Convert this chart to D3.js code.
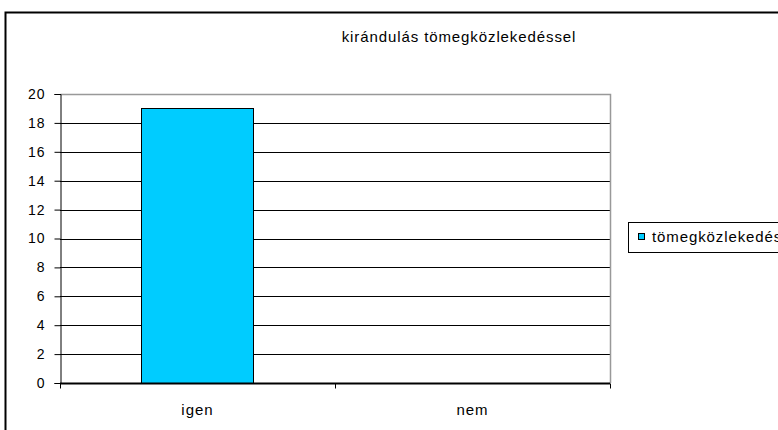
<!DOCTYPE html>
<html>
<head>
<meta charset="utf-8">
<script src="https://cdn.jsdelivr.net/npm/d3@7"></script>
<style>
body { margin: 0; background: #fff; }
text { font-family: "Liberation Sans", Arial, sans-serif; }
</style>
</head>
<body>
<script>
var categories = ["igen", "nem"];
var values = [19, 0];
var seriesName = "tömegközlekedéssel";
var title = "kirándulás tömegközlekedéssel";
var yTicks = [0, 2, 4, 6, 8, 10, 12, 14, 16, 18, 20];

var W = 778, H = 430;
var margin = {top: 94, left: 60}, width = 550, height = 289;

var root = d3.select("body").append("svg")
    .attr("width", W)
    .attr("height", H);

// chart area border
root.append("rect")
    .attr("x", 5.5).attr("y", 12.5)
    .attr("width", 800).attr("height", 500)
    .attr("fill", "#fff")
    .attr("stroke", "#000")
    .attr("stroke-width", 2);

root.append("text")
    .attr("x", 459).attr("y", 42)
    .attr("text-anchor", "middle")
    .style("font-size", "15px")
    .style("letter-spacing", "0.9px")
    .text(title);

var svg = root.append("g")
    .attr("transform", "translate(" + margin.left + "," + margin.top + ")");

var x = d3.scaleBand().domain(categories).range([0, width]).paddingInner(0).paddingOuter(0);
var y = d3.scaleLinear().domain([0, 20]).range([height, 0]);

// gridlines
svg.selectAll("line.grid")
    .data(yTicks.slice(1, -1))
    .enter()
    .append("line")
    .attr("x1", 0).attr("x2", width)
    .attr("y1", function(d) { return Math.round(y(d)) + 0.5; })
    .attr("y2", function(d) { return Math.round(y(d)) + 0.5; })
    .attr("stroke", "#000");

// plot area border top/right (gray)
svg.append("path")
    .attr("d", "M0.5,0.5H" + (width + 0.5) + "V" + height)
    .attr("fill", "none")
    .attr("stroke", "#999")
    .attr("stroke-width", 1.5);

// bars
var bw = 112;
svg.selectAll("rect.bar")
    .data(values)
    .enter()
    .append("rect")
    .attr("x", function(d, i) { return Math.round(x(categories[i]) + x.bandwidth() / 2 - bw / 2) - 0.5; })
    .attr("y", function(d) { return Math.round(y(d)) + 0.5; })
    .attr("width", bw)
    .attr("height", function(d) { return height - Math.round(y(d)); })
    .attr("fill", function(d) { return d > 0 ? "#00ccff" : "none"; })
    .attr("stroke", function(d) { return d > 0 ? "#000" : "none"; });

// y axis
var yAxis = svg.append("g")
    .attr("transform", "translate(0.5,0)")
    .call(d3.axisLeft(y).tickValues(yTicks).tickSize(6).tickPadding(9));
yAxis.select(".domain").attr("stroke", "#000");
yAxis.selectAll("line").attr("stroke", "#000");
yAxis.selectAll("text")
    .attr("fill", "#000")
    .attr("font-family", "Liberation Sans, Arial, sans-serif")
    .style("font-size", "14px")
    .style("letter-spacing", "1px");

// x axis
var xAxis = svg.append("g")
    .attr("transform", "translate(0," + (height + 0.5) + ")");
xAxis.append("line")
    .attr("x1", 0).attr("x2", width)
    .attr("stroke", "#000").attr("stroke-width", 2);
var xEdges = categories.map(function(c) { return x(c); }).concat([width]);
xAxis.selectAll("line.tick")
    .data(xEdges)
    .enter()
    .append("line")
    .attr("x1", function(d) { return Math.round(d) + 0.5; })
    .attr("x2", function(d) { return Math.round(d) + 0.5; })
    .attr("y1", 0).attr("y2", 5)
    .attr("stroke", "#000");
xAxis.selectAll("text.cat")
    .data(categories)
    .enter()
    .append("text")
    .attr("x", function(d) { return x(d) + x.bandwidth() / 2; })
    .attr("y", 31)
    .attr("text-anchor", "middle")
    .style("font-size", "15px")
    .style("letter-spacing", "1px")
    .text(function(d) { return d; });

// legend
var lg = root.append("g").attr("transform", "translate(628.5,222.5)");
lg.append("rect")
    .attr("width", 220).attr("height", 30)
    .attr("fill", "#fff").attr("stroke", "#000");
lg.append("rect")
    .attr("x", 10).attr("y", 11).attr("width", 6).attr("height", 6)
    .attr("fill", "#00ccff").attr("stroke", "#000");
lg.append("text")
    .attr("x", 23.5).attr("y", 19.5)
    .style("font-size", "15px")
    .style("letter-spacing", "0.9px")
    .text(seriesName);
</script>
</body>
</html>
